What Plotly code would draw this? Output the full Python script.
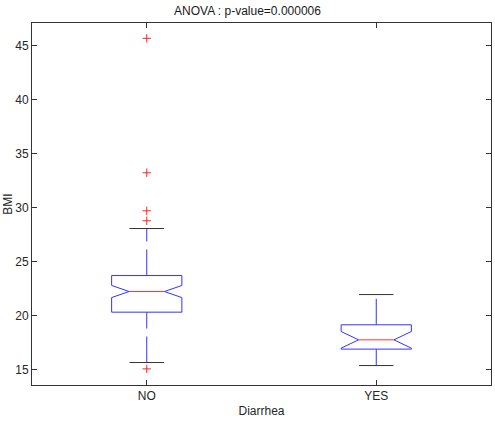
import plotly.graph_objects as go

categories = ["NO", "YES"]
q1 = [20.34, 16.92]
median = [22.25, 17.78]
q3 = [23.73, 19.17]
notch_lo = [21.69, 17.01]
notch_hi = [22.81, 18.55]
whisker_lo = [15.68, 15.40]
whisker_hi = [28.08, 21.97]
outliers_no = [45.68, 33.24, 29.72, 28.80, 15.09]
outliers_yes = []
title_text = "ANOVA : p-value=0.000006"
x_title = "Diarrhea"
y_title = "BMI"
y_ticks = [15, 20, 25, 30, 35, 40, 45]

W = 0.153   # box half width (x units)
WN = 0.077  # notch inner half width
WC = 0.075  # cap half width

box_x, box_y = [], []
med_x, med_y = [], []
wh_x, wh_y = [], []
cap_x, cap_y = [], []
for i, c in enumerate(categories):
    x = i + 1
    box_x += [x - W, x + W, x + W, x + WN, x + W, x + W, x - W, x - W, x - WN, x - W, x - W, None]
    box_y += [q3[i], q3[i], notch_hi[i], median[i], notch_lo[i], q1[i], q1[i], notch_lo[i], median[i], notch_hi[i], q3[i], None]
    med_x += [x - WN, x + WN, None]
    med_y += [median[i], median[i], None]
    # whiskers drawn bottom-to-top so the dash pattern starts at the lower end
    wh_x += [x, x, None, x, x, None]
    wh_y += [q3[i], whisker_hi[i], None, whisker_lo[i], q1[i], None]
    cap_x += [x - WC, x + WC, None, x - WC, x + WC, None]
    cap_y += [whisker_hi[i], whisker_hi[i], None, whisker_lo[i], whisker_lo[i], None]

out_x = [1] * len(outliers_no) + [2] * len(outliers_yes)
out_y = outliers_no + outliers_yes

fig = go.Figure()
fig.add_trace(go.Scatter(x=wh_x, y=wh_y, mode="lines",
                         line=dict(color="#3333ff", width=1, dash="26px,8px"), hoverinfo="skip"))
fig.add_trace(go.Scatter(x=cap_x, y=cap_y, mode="lines",
                         line=dict(color="#333333", width=1), hoverinfo="skip"))
fig.add_trace(go.Scatter(x=box_x, y=box_y, mode="lines",
                         line=dict(color="#3333ff", width=1), hoverinfo="skip"))
fig.add_trace(go.Scatter(x=med_x, y=med_y, mode="lines",
                         line=dict(color="#ff3333", width=1), hoverinfo="skip"))
fig.add_trace(go.Scatter(x=out_x, y=out_y, mode="markers",
                         marker=dict(symbol="cross-thin", size=6, line=dict(color="#ff2222", width=1)),
                         hoverinfo="skip"))

font = "Liberation Sans, Arial, sans-serif"
fig.update_layout(
    width=495, height=427,
    margin=dict(l=32, r=4, t=23, b=42),
    paper_bgcolor="white", plot_bgcolor="white",
    showlegend=False,
    font=dict(family=font, size=12, color="#262626"),
    title=dict(text=title_text, x=0.5, xanchor="center", y=1 - 11 / 427, yanchor="middle",
               font=dict(family=font, size=12, color="#1a1a1a")),
    xaxis=dict(range=[0.5, 2.5], tickvals=[1, 2], ticktext=categories,
               ticks="inside", ticklen=5, tickcolor="#333333", showline=True, linecolor="#333333",
               linewidth=1, mirror="allticks", showgrid=False, zeroline=False,
               title=dict(text=x_title, standoff=4, font=dict(size=12))),
    yaxis=dict(range=[13.6, 47.1], tickvals=y_ticks,
               ticks="inside", ticklen=5, tickcolor="#333333", showline=True, linecolor="#333333",
               linewidth=1, mirror="allticks", showgrid=False, zeroline=False,
               title=dict(text=y_title, standoff=0, font=dict(size=12))),
)

fig.write_html("out.html")
